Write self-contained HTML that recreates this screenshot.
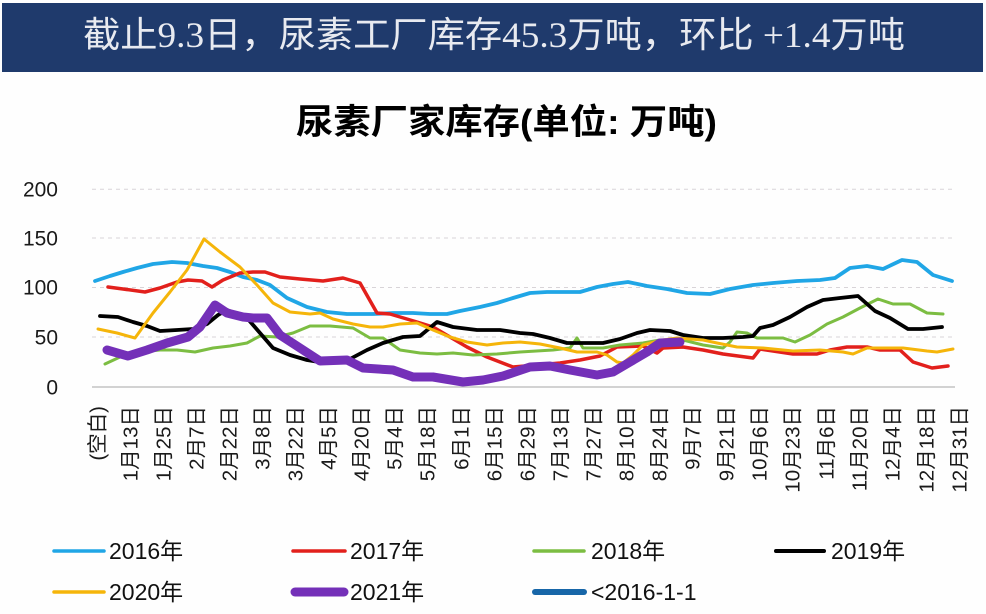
<!DOCTYPE html>
<html>
<head>
<meta charset="utf-8">
<style>
html,body{margin:0;padding:0;background:#fff;}
svg{display:block;}
</style>
</head>
<body>
<svg width="986" height="614" viewBox="0 0 986 614" xmlns="http://www.w3.org/2000/svg">
<rect x="0" y="0" width="986" height="614" fill="#fefefe"/>
<!-- header band -->
<rect x="2" y="3" width="981" height="69" fill="#1f3a6c"/>
<text x="83" y="47" font-family="'Liberation Serif','Noto Sans CJK SC',serif" font-size="36" fill="#e8eaf0" textLength="822" lengthAdjust="spacingAndGlyphs">截止9.3日，尿素工厂库存45.3万吨，环比 +1.4万吨</text>

<!-- chart title -->
<text x="296" y="134" font-family="'Liberation Sans','Noto Sans CJK SC',sans-serif" font-size="35" font-weight="bold" fill="#000" textLength="421" lengthAdjust="spacingAndGlyphs">尿素厂家库存(单位: 万吨)</text>

<!-- gridlines -->
<g stroke="#d8d4d8" stroke-width="1" stroke-dasharray="4,4">
<line x1="92" y1="189.3" x2="955" y2="189.3"/>
<line x1="92" y1="238" x2="955" y2="238"/>
<line x1="92" y1="287.5" x2="955" y2="287.5"/>
<line x1="92" y1="337" x2="955" y2="337"/>
</g>
<line x1="92" y1="387" x2="955" y2="387" stroke="#c4c4c4" stroke-width="1.5"/>

<!-- y labels -->
<g font-family="'Liberation Sans',sans-serif" font-size="21" fill="#1a1a1a" text-anchor="end" dominant-baseline="central">
<text x="58" y="190">200</text>
<text x="58" y="239">150</text>
<text x="58" y="288">100</text>
<text x="58" y="338">50</text>
<text x="58" y="388">0</text>
</g>

<!-- series -->
<g fill="none" stroke-linejoin="round" stroke-linecap="round">
<polyline stroke="#20a6e6" stroke-width="3.8" points="95,281 110,276 123,272 137,268 153,264 172,262 187,263 203,266 217,268 230,272 243,277 257,280 270,285 287,298 307,307 327,312 347,314 373,314 393,313 413,313 430,314 447,314 460,311 480,307 497,303 513,298 530,293 547,292 580,292 597,287 613,284 628,282 647,286 667,289 687,293 710,294 730,289 753,285 773,283 797,281 820,280 835,278 850,268 867,266 883,269 902,260 917,262 933,275 952,281"/>
<polyline stroke="#e2201c" stroke-width="3.5" points="108,287 123,289 145,292 160,288 177,282 188,280 202,281 212,287 223,280 240,273 253,272 265,272 280,277 300,279 323,281 343,278 360,283 377,313 390,314 417,322 433,327 450,337 467,347 487,357 513,367 537,365 560,363 580,360 600,356 617,347 643,346 657,353 663,348 683,347 703,350 723,354 753,358 760,349 773,351 793,354 817,354 830,350 847,347 867,347 880,350 900,350 913,362 932,368 948,366"/>
<polyline stroke="#7cbd42" stroke-width="3" points="105,364 120,357 140,352 160,350 177,350 195,352 213,348 230,346 247,343 260,336 277,337 293,333 310,326 330,326 353,328 370,338 383,338 400,350 420,353 437,354 453,353 473,355 497,354 520,352 553,350 570,348 577,338 583,348 603,348 620,345 643,343 660,340 683,340 703,345 723,348 730,342 737,332 747,333 757,338 770,338 783,338 795,342 810,335 827,324 843,317 860,308 878,299 893,304 910,304 927,313 943,314"/>
<polyline stroke="#000000" stroke-width="3.8" points="100,316 118,317 133,322 147,326 160,331 177,330 193,329 207,324 218,315 227,310 247,318 260,333 273,348 290,355 307,360 325,363 338,361 350,359 367,350 383,343 403,337 420,336 437,322 453,327 477,330 500,330 520,333 533,334 550,338 567,343 603,343 620,339 637,333 650,330 670,331 683,335 703,338 723,338 743,337 753,336 760,328 773,325 790,317 807,307 823,300 840,298 858,296 875,311 890,318 908,329 923,329 942,327"/>
<polyline stroke="#f5b50a" stroke-width="3" points="98,329 117,333 135,338 153,313 170,292 187,270 204,239 220,252 240,267 257,285 273,303 290,312 310,314 320,313 333,319 353,324 370,327 383,327 400,324 417,323 433,330 450,337 467,342 487,345 503,343 520,342 540,344 560,348 577,352 597,352 607,355 617,362 623,363 633,355 643,345 663,340 677,338 703,340 717,343 737,347 763,348 793,351 820,350 843,352 853,354 867,348 880,348 903,348 927,351 937,352 953,349"/>
<polyline stroke="#7430b8" stroke-width="9" points="107,350 128,356 147,350 167,343 188,337 200,327 215,305 227,313 243,317 253,318 267,318 280,335 300,348 320,361 347,360 363,368 393,370 413,377 433,377 463,382 483,380 503,376 530,367 550,366 570,370 597,375 613,372 630,362 647,352 660,343 680,342"/>
</g>

<!-- x labels -->
<g font-family="'Liberation Sans','Noto Sans CJK SC',sans-serif" font-size="20.5" fill="#1a1a1a" text-anchor="end" dominant-baseline="central">
<text transform="translate(98,406) rotate(-90)">(空白)</text>
<text transform="translate(131,406) rotate(-90)">1月13日</text>
<text transform="translate(164,406) rotate(-90)">1月25日</text>
<text transform="translate(197,406) rotate(-90)">2月7日</text>
<text transform="translate(230,406) rotate(-90)">2月22日</text>
<text transform="translate(263,406) rotate(-90)">3月8日</text>
<text transform="translate(296,406) rotate(-90)">3月22日</text>
<text transform="translate(329,406) rotate(-90)">4月5日</text>
<text transform="translate(362,406) rotate(-90)">4月20日</text>
<text transform="translate(395,406) rotate(-90)">5月4日</text>
<text transform="translate(428,406) rotate(-90)">5月18日</text>
<text transform="translate(462,406) rotate(-90)">6月1日</text>
<text transform="translate(495,406) rotate(-90)">6月15日</text>
<text transform="translate(528,406) rotate(-90)">6月29日</text>
<text transform="translate(561,406) rotate(-90)">7月13日</text>
<text transform="translate(594,406) rotate(-90)">7月27日</text>
<text transform="translate(627,406) rotate(-90)">8月10日</text>
<text transform="translate(660,406) rotate(-90)">8月24日</text>
<text transform="translate(693,406) rotate(-90)">9月7日</text>
<text transform="translate(727,406) rotate(-90)">9月21日</text>
<text transform="translate(760,406) rotate(-90)">10月6日</text>
<text transform="translate(793,406) rotate(-90)">10月23日</text>
<text transform="translate(827,406) rotate(-90)">11月6日</text>
<text transform="translate(860,406) rotate(-90)">11月20日</text>
<text transform="translate(893,406) rotate(-90)">12月4日</text>
<text transform="translate(927,406) rotate(-90)">12月18日</text>
<text transform="translate(960,406) rotate(-90)">12月31日</text>
</g>

<!-- legend -->
<g stroke-linecap="round">
<line x1="54" y1="551" x2="104" y2="551" stroke="#20a6e6" stroke-width="3.5"/>
<line x1="293" y1="551" x2="345" y2="551" stroke="#e2201c" stroke-width="3.5"/>
<line x1="534" y1="551" x2="584" y2="551" stroke="#7cbd42" stroke-width="3.5"/>
<line x1="776" y1="551" x2="824" y2="551" stroke="#000000" stroke-width="4"/>
<line x1="54" y1="592" x2="104" y2="592" stroke="#f5b50a" stroke-width="3.5"/>
<line x1="295" y1="592" x2="344" y2="592" stroke="#7430b8" stroke-width="9"/>
<line x1="535" y1="592" x2="584" y2="592" stroke="#1766a8" stroke-width="6"/>
</g>
<g font-family="'Liberation Sans','Noto Sans CJK SC',sans-serif" font-size="23" fill="#111" dominant-baseline="central">
<text x="109" y="551">2016年</text>
<text x="350" y="551">2017年</text>
<text x="591" y="551">2018年</text>
<text x="831" y="551">2019年</text>
<text x="109" y="592">2020年</text>
<text x="350" y="592">2021年</text>
<text x="591" y="592">&lt;2016-1-1</text>
</g>
</svg>
</body>
</html>
